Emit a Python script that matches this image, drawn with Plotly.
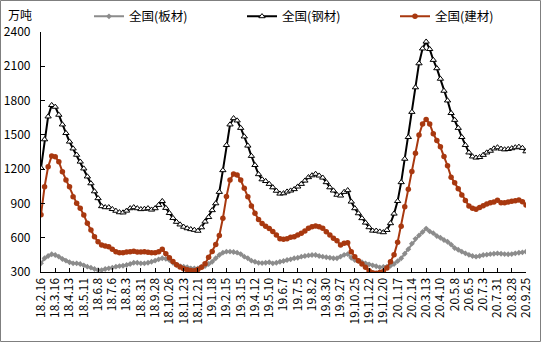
import plotly.graph_objects as go

tick_labels = ["18.2.16","18.3.16","18.4.13","18.5.11","18.6.8","18.7.6","18.8.3","18.8.31",
               "18.9.28","18.10.26","18.11.23","18.12.21","19.1.18","19.2.15","19.3.15","19.4.12",
               "19.5.10","19.6.7","19.7.5","19.8.2","19.8.30","19.9.27","19.10.25","19.11.22",
               "19.12.20","20.1.17","20.2.14","20.3.13","20.4.10","20.5.8","20.6.5","20.7.3",
               "20.7.31","20.8.28","20.9.25"]

plate = [376,420,440,455,449,434,414,399,385,376,376,370,358,347,338,326,317,317,326,332,
         338,347,352,355,361,370,381,381,376,376,381,390,399,411,420,415,405,381,361,352,
         347,342,332,332,332,347,352,370,390,420,449,469,478,478,475,469,457,434,420,399,
         390,380,378,381,385,376,381,390,396,405,411,420,425,434,440,445,449,449,440,434,
         429,425,420,420,435,450,457,425,405,395,385,376,367,358,350,341,345,347,355,370,
         395,420,460,500,548,590,620,650,680,655,640,615,600,580,565,540,510,495,478,463,
         450,440,434,440,449,452,457,460,463,460,457,455,457,463,468,472,478]

steel = [1210,1460,1660,1760,1745,1675,1590,1515,1440,1380,1325,1265,1205,1135,1075,1005,945,875,866,866,
         850,835,822,820,836,857,866,857,849,852,857,845,857,886,920,860,815,772,738,715,
         695,682,674,668,660,690,740,780,840,900,1000,1190,1410,1590,1645,1625,1560,1485,1405,1315,
         1235,1155,1110,1095,1070,1040,1010,985,988,1003,1012,1024,1047,1070,1099,1129,1145,1158,1143,1125,
         1085,1040,1012,975,968,1000,1015,915,857,813,770,731,691,661,661,653,647,667,726,810,
         920,1085,1290,1480,1700,1915,2125,2255,2315,2250,2155,2082,1990,1885,1800,1690,1630,1560,1480,1410,
         1345,1310,1300,1305,1324,1345,1360,1380,1390,1378,1372,1375,1382,1390,1395,1385,1355]

building = [800,1047,1221,1315,1309,1265,1178,1105,1047,959,901,857,799,726,667,609,565,536,527,521,
            499,478,469,469,475,478,481,475,475,478,472,469,469,478,499,460,425,392,363,343,
            328,320,314,312,322,342,372,430,480,540,620,770,960,1105,1158,1149,1105,1032,959,877,
            813,760,725,700,680,655,624,590,586,590,603,609,624,639,659,682,696,703,696,682,
            653,624,595,574,536,551,556,478,434,399,370,341,311,294,290,295,305,335,390,450,
            560,700,870,1025,1180,1340,1499,1595,1635,1595,1510,1450,1395,1310,1230,1130,1080,1028,974,925,
            877,857,849,865,880,895,905,912,928,906,906,912,918,924,930,915,886]

x = list(range(len(steel)))
tick_vals = [4 * k for k in range(len(tick_labels))]

FONT = "Noto Sans CJK SC, Microsoft YaHei, sans-serif"
GRAY = "#8c8c8c"
BROWN = "#a8380f"

fig = go.Figure()
fig.add_trace(go.Scatter(x=x, y=plate, name="全国(板材)", mode="lines+markers", legend="legend",
                         line=dict(color=GRAY, width=2),
                         marker=dict(symbol="diamond", size=4.5, color=GRAY)))
fig.add_trace(go.Scatter(x=x, y=steel, name="全国(钢材)", mode="lines+markers", legend="legend2",
                         line=dict(color="black", width=2),
                         marker=dict(symbol="triangle-up", size=5.5, color="white",
                                     line=dict(color="black", width=1))))
fig.add_trace(go.Scatter(x=x, y=building, name="全国(建材)", mode="lines+markers", legend="legend3",
                         line=dict(color=BROWN, width=2),
                         marker=dict(symbol="circle", size=5.5, color=BROWN)))

def leg(px):
    return dict(orientation="h", xref="container", yref="container",
                x=px / 541, y=0.995, xanchor="left", yanchor="top",
                font=dict(size=12.5), bgcolor="rgba(0,0,0,0)", itemwidth=30)

fig.update_layout(
    width=541, height=342,
    margin=dict(l=41, r=15, t=32, b=70, autoexpand=False),
    paper_bgcolor="white", plot_bgcolor="white",
    font=dict(family=FONT, size=12, color="black"),
    showlegend=True,
    legend=leg(89), legend2=leg(242), legend3=leg(395),
    xaxis=dict(range=[0, 136], tickmode="array", tickvals=tick_vals, ticktext=tick_labels,
               tickangle=-90, ticks="inside", ticklen=4, tickcolor="black",
               showline=True, linecolor="black", linewidth=1.2, showgrid=False,
               zeroline=False, tickfont=dict(size=12)),
    yaxis=dict(range=[300, 2400], tickmode="array", tickvals=list(range(300, 2401, 300)),
               ticks="inside", ticklen=4, tickcolor="black", ticklabelstandoff=7,
               showline=True, linecolor="black", linewidth=1.2, showgrid=False,
               zeroline=False, tickfont=dict(size=12)),
    annotations=[dict(text="万吨", xref="paper", yref="paper", x=-41/485 + 6/485, y=1 + 18/240,
                      xanchor="left", yanchor="middle", showarrow=False, font=dict(size=12))],
    shapes=[dict(type="rect", xref="paper", yref="paper",
                 x0=-40.5/485, x1=1 + 14.5/485, y0=-69.5/240, y1=1 + 31.5/240,
                 line=dict(color="#7f7f7f", width=1), fillcolor="rgba(0,0,0,0)", layer="below")],
)

fig.write_html("out.html")
